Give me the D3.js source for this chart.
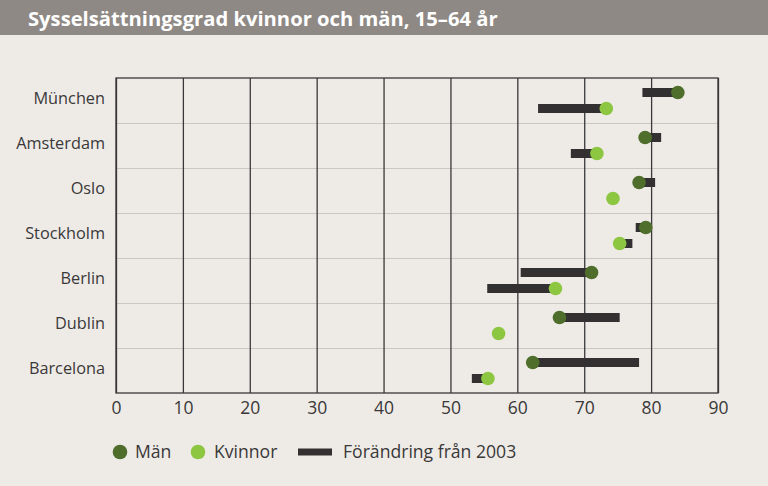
<!DOCTYPE html>
<html><head><meta charset="utf-8">
<script src="https://cdn.jsdelivr.net/npm/d3@7"></script>
<style>
html,body{margin:0;padding:0;background:#eeebe7;}
svg{display:block;}
</style></head>
<body>
<script>
const cities = ["München","Amsterdam","Oslo","Stockholm","Berlin","Dublin","Barcelona"];
const men2013 = [84.0, 79.1, 78.2, 79.2, 71.1, 66.3, 62.3];
const men2003 = [78.7, 81.5, 80.6, 77.7, 60.5, 75.3, 78.2];
const women2013 = [73.3, 71.9, 74.3, 75.3, 65.7, 57.2, 55.6];
const women2003 = [63.1, 68.0, null, 77.2, 55.5, null, 53.2];
const xTicks = [0,10,20,30,40,50,60,70,80,90];
const title = "Sysselsättningsgrad kvinnor och män, 15–64 år";
const legendLabels = ["Män","Kvinnor","Förändring från 2003"];

const W = 768, H = 486;
const colMen = "#4f6e2b", colWomen = "#8dc641", colBar = "#333031";
const font = "'Open Sans', 'Noto Sans', sans-serif";

const svg = d3.select("body").append("svg").attr("width", W).attr("height", H);
svg.append("rect").attr("width", W).attr("height", H).attr("fill", "#eeebe7");
svg.append("rect").attr("width", W).attr("height", 35).attr("fill", "#8f8985");
svg.append("text").attr("x", 28).attr("y", 26).text(title)
  .attr("fill", "#fff").attr("font-family", "'Open Sans', sans-serif")
  .attr("font-weight", "bold").attr("font-size", 20.2);

const L = 116, R = 718, T = 78, B = 393;
const x = d3.scaleLinear().domain([0, 90]).range([L, R]);
const y = d3.scaleBand().domain(cities).range([T, B]);
const sub = d3.scalePoint().domain(["men","women"]).range([14.5, 30.5]);

// horizontal light gridlines between rows
svg.append("g").selectAll("line").data(cities.slice(1)).join("line")
  .attr("x1", L).attr("x2", R)
  .attr("y1", d => y(d) + 0.5).attr("y2", d => y(d) + 0.5)
  .attr("stroke", "#cbc7c3").attr("stroke-width", 1.2);

// vertical gridlines via axis
const xAxis = d3.axisBottom(x).tickValues(xTicks).tickSize(-(B - T)).tickPadding(9).tickFormat(d3.format("d"));
const gx = svg.append("g").attr("transform", `translate(0,${B})`).call(xAxis);
gx.select(".domain").remove();
gx.selectAll(".tick line").attr("stroke", "#3a3838").attr("stroke-width", 1.3);
gx.selectAll(".tick text").attr("font-family", font).attr("font-size", 17.5).attr("fill", "#3a3838");

// frame
svg.append("rect").attr("x", L).attr("y", T).attr("width", R - L).attr("height", B - T)
  .attr("fill", "none").attr("stroke", "#3a3838").attr("stroke-width", 1.3);

// y labels
svg.append("g").selectAll("text").data(cities).join("text")
  .attr("x", 105).attr("y", d => y(d) + 26)
  .attr("text-anchor", "end").attr("font-family", font).attr("font-size", 16.3)
  .attr("fill", "#3a3838").text(d => d);

// bars
const barH = 9;
const rows = [];
cities.forEach((c, i) => {
  rows.push({c, k: "men", v: men2013[i], v0: men2003[i]});
  rows.push({c, k: "women", v: women2013[i], v0: women2003[i]});
});
svg.append("g").selectAll("rect").data(rows.filter(d => d.v0 != null)).join("rect")
  .attr("x", d => x(Math.min(d.v, d.v0)))
  .attr("width", d => Math.abs(x(d.v) - x(d.v0)))
  .attr("y", d => y(d.c) + sub(d.k) - barH / 2)
  .attr("height", barH).attr("fill", colBar);

svg.append("g").selectAll("circle").data(rows).join("circle")
  .attr("cx", d => x(d.v)).attr("cy", d => y(d.c) + sub(d.k))
  .attr("r", 6.8).attr("fill", d => d.k === "men" ? colMen : colWomen);

// legend
const ly = 452;
const lg = svg.append("g").attr("font-family", font).attr("font-size", 17.6).attr("fill", "#3a3838");
lg.append("circle").attr("cx", 120).attr("cy", ly).attr("r", 7.3).attr("fill", colMen);
lg.append("text").attr("x", 135).attr("y", ly + 6).text(legendLabels[0]);
lg.append("circle").attr("cx", 198).attr("cy", ly).attr("r", 7.3).attr("fill", colWomen);
lg.append("text").attr("x", 214).attr("y", ly + 6).text(legendLabels[1]);
lg.append("rect").attr("x", 298).attr("y", ly - 3.5).attr("width", 34).attr("height", 7).attr("fill", colBar);
lg.append("text").attr("x", 343).attr("y", ly + 6).text(legendLabels[2]);
</script>
</body></html>
